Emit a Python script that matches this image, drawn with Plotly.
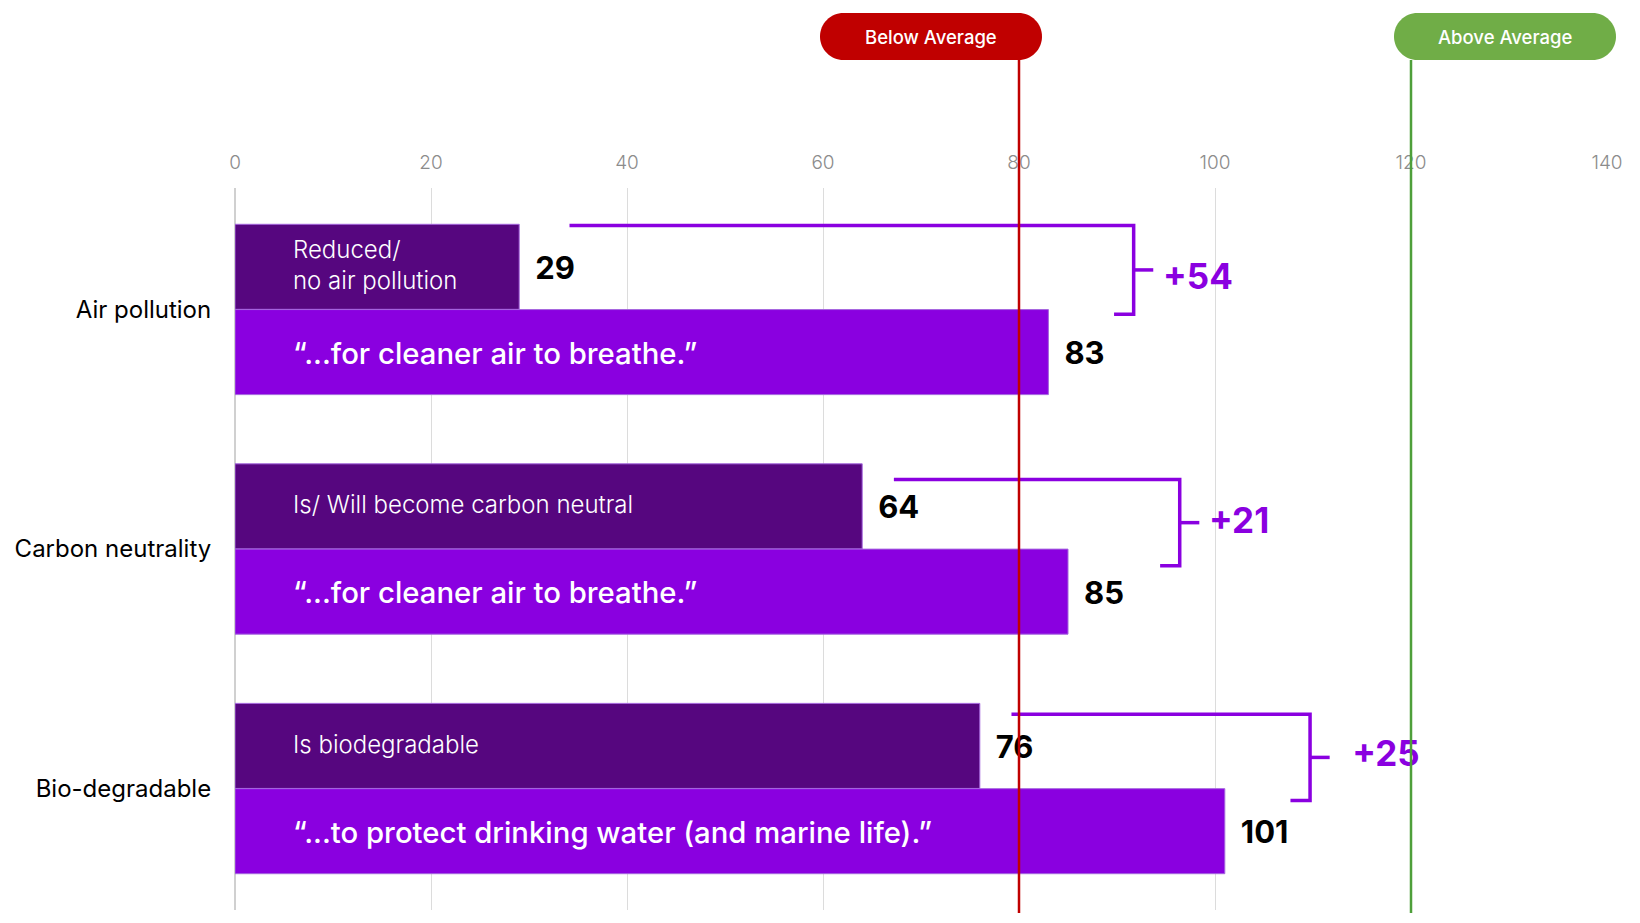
import plotly.graph_objects as go

# ---- data -------------------------------------------------------------
categories = ["Air pollution", "Carbon neutrality", "Bio-degradable"]
attribute_labels = ["Reduced/<br>no air pollution", "Is/ Will become carbon neutral", "Is biodegradable"]
benefit_labels = [
    "“...for cleaner air to breathe.”",
    "“...for cleaner air to breathe.”",
    "“...to protect drinking water (and marine life).”",
]
attribute_values = [29, 64, 76]
benefit_values = [83, 85, 101]
below_average = 80
above_average = 120
x_ticks = [0, 20, 40, 60, 80, 100, 120, 140]

# ---- styling ----------------------------------------------------------
DARK = "#56067F"
LIGHT = "#8A00E0"
RED = "#C00000"
GREEN = "#70AD47"
GREEN_LINE = "#4E9F3A"
FONT = "Inter"

W, H = 1640, 923
M_L, M_R, M_T, M_B = 235, 33, 188, 13
X_MAX = 140
PX_PER_UNIT = (W - M_L - M_R) / X_MAX
PLOT_H = H - M_T - M_B

BAR_W = 0.355
OFFSET = 0.178
TEXT_NUDGE = 0.018                     # optical centring of text in a row
LABEL_GAP = 16 / PX_PER_UNIT          # gap between bar end and value label
INNER_PAD = 58 / PX_PER_UNIT           # inset of the in-bar captions
bracket_reach = [8.7, 11.4, 8.7]       # bracket distance beyond the longer bar
bracket_top = [-0.35, -0.29, -0.31]
bracket_bottom = [0.02, 0.07, 0.05]
line_lead = [3.5, 1.6, 1.6]            # start of bracket line after the short label
diff_gap = [3.0, 3.0, 4.3]             # bracket to difference label
diff_shift = [0.045, 0.008, 0.0]       # vertical placement of difference label

idx = list(range(len(categories)))
y_dark = [i - OFFSET for i in idx]
y_light = [i + OFFSET for i in idx]

fig = go.Figure()

bar_line = dict(color="#a566de", width=1)
fig.add_trace(go.Bar(x=attribute_values, y=y_dark, orientation="h", width=BAR_W,
                     marker=dict(color=DARK, line=bar_line), hoverinfo="skip"))
fig.add_trace(go.Bar(x=benefit_values, y=y_light, orientation="h", width=BAR_W,
                     marker=dict(color=LIGHT, line=bar_line), hoverinfo="skip"))

# captions inside the bars
fig.add_trace(go.Scatter(x=[INNER_PAD] * 3, y=[y + 0.004 for y in y_dark], mode="text",
                         text=attribute_labels, textposition="middle right",
                         textfont=dict(family=FONT, size=24, color="white", weight=300),
                         hoverinfo="skip"))
fig.add_trace(go.Scatter(x=[INNER_PAD] * 3, y=[y + TEXT_NUDGE for y in y_light], mode="text",
                         text=benefit_labels, textposition="middle right",
                         textfont=dict(family=FONT, size=29.3, color="white", weight=500),
                         hoverinfo="skip"))

# value labels
fig.add_trace(go.Scatter(x=[v + LABEL_GAP for v in attribute_values],
                         y=[y + TEXT_NUDGE for y in y_dark], mode="text",
                         text=[str(v) for v in attribute_values], textposition="middle right",
                         textfont=dict(family=FONT, size=31, color="black", weight=700),
                         hoverinfo="skip", cliponaxis=False))
fig.add_trace(go.Scatter(x=[v + LABEL_GAP for v in benefit_values],
                         y=[y + TEXT_NUDGE for y in y_light], mode="text",
                         text=[str(v) for v in benefit_values], textposition="middle right",
                         textfont=dict(family=FONT, size=31, color="black", weight=700),
                         hoverinfo="skip", cliponaxis=False))

# difference brackets
shapes = []
diff_x, diff_y, diff_txt = [], [], []
for i in idx:
    xs = attribute_values[i] + LABEL_GAP + line_lead[i]
    xb = benefit_values[i] + bracket_reach[i]
    yt = i + bracket_top[i]
    yb = i + bracket_bottom[i]
    ym = (yt + yb) / 2
    shapes.append(dict(type="path", xref="x", yref="y", layer="above",
                       path=f"M {xs},{yt} H {xb} V {yb} H {xb - 2}",
                       line=dict(color=LIGHT, width=3.5)))
    shapes.append(dict(type="path", xref="x", yref="y", layer="above",
                       path=f"M {xb},{ym} H {xb + 2}",
                       line=dict(color=LIGHT, width=3.5)))
    diff_x.append(xb + diff_gap[i])
    diff_y.append(ym + diff_shift[i])
    diff_txt.append(f"+{benefit_values[i] - attribute_values[i]}")

fig.add_trace(go.Scatter(x=diff_x, y=diff_y, mode="text", text=diff_txt,
                         textposition="middle right",
                         textfont=dict(family=FONT, size=35, color=LIGHT, weight=700),
                         hoverinfo="skip", cliponaxis=False))

# reference lines with pill labels
top_px = 128  # pill bottom above plot top, in px
line_top = 1 + top_px / PLOT_H
line_bot = -3 / PLOT_H
for xv, col in [(below_average, RED), (above_average, GREEN_LINE)]:
    shapes.append(dict(type="line", xref="x", yref="paper", x0=xv, x1=xv,
                       y0=line_bot, y1=line_top, layer="above",
                       line=dict(color=col, width=2.5)))


def pill(xl, xr, yb, yt):
    r = (yt - yb) / 2
    k = 0.5523 * r
    ym = yb + r
    return (f"M {xl + r},{yt} H {xr - r} "
            f"C {xr - r + k},{yt} {xr},{ym + k} {xr},{ym} "
            f"C {xr},{ym - k} {xr - r + k},{yb} {xr - r},{yb} "
            f"H {xl + r} "
            f"C {xl + r - k},{yb} {xl},{ym - k} {xl},{ym} "
            f"C {xl},{ym + k} {xl + r - k},{yt} {xl + r},{yt} Z")


pills = [
    (below_average, -199, 23, RED, "Below Average"),
    (above_average, -17, 205, GREEN, "Above Average"),
]
annotations = []
for xv, xl, xr, col, label in pills:
    # anchored in paper space so the pill may run past the plot edge
    shapes.append(dict(type="path", xref="paper", yref="paper", xsizemode="pixel",
                       ysizemode="pixel", xanchor=xv / X_MAX, yanchor=1,
                       path=pill(xl, xr, top_px, top_px + 47),
                       fillcolor=col, line=dict(width=0), layer="above"))
    annotations.append(dict(x=xv, y=1, xref="x", yref="paper", xshift=(xl + xr) / 2,
                            yshift=top_px + 23.5, text=label, showarrow=False,
                            xanchor="center", yanchor="middle",
                            font=dict(family=FONT, size=18.5, color="white", weight=500)))

fig.update_layout(
    width=W, height=H,
    margin=dict(l=M_L, r=M_R, t=M_T, b=M_B),
    plot_bgcolor="white", paper_bgcolor="white",
    showlegend=False, barmode="overlay",
    shapes=shapes, annotations=annotations,
    xaxis=dict(range=[0, X_MAX], side="top", tickvals=x_ticks,
               showgrid=True, gridcolor="#dcdcdc", gridwidth=1,
               zeroline=True, zerolinecolor="#d0d0d0", zerolinewidth=1.5,
               showline=False, ticks="outside", ticklen=10,
               tickcolor="rgba(0,0,0,0)",
               tickfont=dict(family=FONT, size=19, color="#8c8c8c", weight=300),
               fixedrange=True),
    yaxis=dict(range=[2.507, -0.507], tickvals=idx, ticktext=categories,
               showgrid=False, zeroline=False, showline=False,
               ticks="outside", ticklen=18, tickcolor="rgba(0,0,0,0)",
               tickfont=dict(family=FONT, size=24, color="black"),
               fixedrange=True),
)

fig.write_html("out.html")
